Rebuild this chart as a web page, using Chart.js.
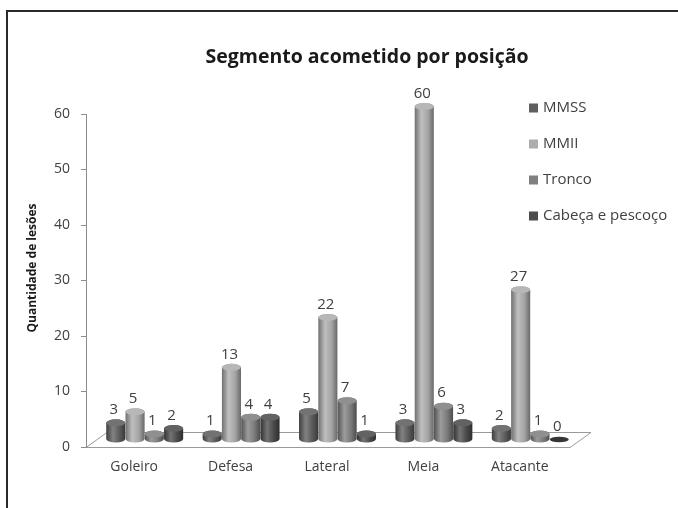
<!DOCTYPE html>
<html>
<head>
<meta charset="utf-8">
<script src="https://cdn.jsdelivr.net/npm/chart.js@4/dist/chart.umd.min.js"></script>
<style>
  html, body { margin: 0; padding: 0; background: #fff; }
  #wrap { width: 678px; height: 508px; }
</style>
</head>
<body>
<div id="wrap"><canvas id="lesoesChart" width="678" height="508"></canvas></div>
<script>
// data
const categories = ["Goleiro", "Defesa", "Lateral", "Meia", "Atacante"]
const seriesNames = ["MMSS", "MMII", "Tronco", "Cabeça e pescoço"]
const mmss = [3, 1, 5, 3, 2]
const mmii = [5, 13, 22, 60, 27]
const tronco = [1, 4, 7, 6, 1]
const cabeca = [2, 4, 1, 3, 0]
const yTicks = [0, 10, 20, 30, 40, 50, 60]

const seriesColors = ["#5f5f5f", "#adadad", "#808080", "#4d4d4d"]
const textColor = "#404040"
const fontFamily = "'Open Sans', 'Liberation Sans', sans-serif"

// 3D floor depth (pixels)
const depth = { dx: 21, dy: -15 }

function shade(hex, amt) {
  const n = parseInt(hex.slice(1), 16)
  let r = (n >> 16) & 255, g = (n >> 8) & 255, b = n & 255
  const t = amt < 0 ? 0 : 255
  const p = Math.abs(amt)
  r = Math.round(r + (t - r) * p)
  g = Math.round(g + (t - g) * p)
  b = Math.round(b + (t - b) * p)
  return "rgb(" + r + "," + g + "," + b + ")"
}

const cylinderPlugin = {
  id: "cylinders",
  beforeDraw(chart) {
    const { ctx, scales } = chart
    const x = scales.x, y = scales.y
    ctx.save()
    // outer frame
    ctx.strokeStyle = "#2a2a2a"
    ctx.lineWidth = 2
    ctx.strokeRect(7, 11, 720, 540)
    // floor
    const y0 = Math.round(y.getPixelForValue(0)) + 0.5
    const l = x.left, r = x.right + 2
    ctx.strokeStyle = "#9a9a9a"
    ctx.lineWidth = 1
    ctx.beginPath()
    ctx.moveTo(l, y0)
    ctx.lineTo(r, y0)
    ctx.lineTo(r + depth.dx, y0 + depth.dy)
    ctx.lineTo(l + depth.dx, y0 + depth.dy)
    ctx.closePath()
    ctx.stroke()
    ctx.restore()
  },
  beforeDatasetsDraw(chart) {
    const ctx = chart.ctx
    ctx.save()
    chart.data.datasets.forEach((ds, di) => {
      const meta = chart.getDatasetMeta(di)
      const c = seriesColors[di]
      meta.data.forEach((el, i) => {
        const { x, y, base, width } = el.getProps(["x", "y", "base", "width"], true)
        const rx = width / 2, ry = 3.5
        const cx = x + depth.dx / 2
        const top = y + depth.dy / 2
        const bot = base + depth.dy / 2
        if (bot - top > 0.5) {
          const grad = ctx.createLinearGradient(cx - rx, 0, cx + rx, 0)
          grad.addColorStop(0, shade(c, -0.35))
          grad.addColorStop(0.35, shade(c, 0.22))
          grad.addColorStop(0.7, shade(c, -0.05))
          grad.addColorStop(1, shade(c, -0.4))
          ctx.beginPath()
          ctx.moveTo(cx - rx, top)
          ctx.lineTo(cx - rx, bot)
          ctx.ellipse(cx, bot, rx, ry, 0, Math.PI, 0, true)
          ctx.lineTo(cx + rx, top)
          ctx.ellipse(cx, top, rx, ry, 0, 0, Math.PI, true)
          ctx.closePath()
          ctx.fillStyle = grad
          ctx.fill()
          ctx.beginPath()
          ctx.ellipse(cx, top, rx, ry, 0, 0, Math.PI * 2)
          ctx.fillStyle = shade(c, 0.12)
          ctx.fill()
        } else {
          ctx.beginPath()
          ctx.ellipse(cx, bot, rx, ry * 0.8, 0, 0, Math.PI * 2)
          ctx.fillStyle = shade(c, -0.3)
          ctx.fill()
        }
        // value label
        ctx.fillStyle = textColor
        ctx.font = "15px " + fontFamily
        ctx.textAlign = "center"
        ctx.textBaseline = "bottom"
        ctx.fillText(String(ds.data[i]), cx - 2, top - ry - 2)
      })
    })
    ctx.restore()
    return false
  },
  afterDraw(chart) {
    const ctx = chart.ctx
    ctx.save()
    // title
    ctx.fillStyle = "#1a1a1a"
    ctx.font = "bold 19.5px " + fontFamily
    ctx.textAlign = "center"
    ctx.textBaseline = "middle"
    ctx.fillText("Segmento acometido por posição", 367, 57)
    // y axis title
    ctx.save()
    ctx.translate(33, 268)
    ctx.rotate(-Math.PI / 2)
    ctx.font = "bold 12px " + fontFamily
    ctx.fillStyle = "#1a1a1a"
    ctx.fillText("Quantidade de lesões", 0, 0)
    ctx.restore()
    // legend
    ctx.font = "15px " + fontFamily
    ctx.textAlign = "left"
    ctx.textBaseline = "middle"
    chart.data.datasets.forEach((ds, i) => {
      const ly = 108 + i * 36
      ctx.fillStyle = seriesColors[i]
      ctx.fillRect(529, ly - 4.5, 9, 9)
      ctx.fillStyle = textColor
      ctx.fillText(ds.label, 543, ly)
    })
    ctx.restore()
  },
}

const ctx = document.getElementById("lesoesChart")
new Chart(ctx, {
  type: "bar",
  data: {
    labels: categories,
    datasets: [mmss, mmii, tronco, cabeca].map((values, i) => ({
      label: seriesNames[i],
      data: values,
      backgroundColor: seriesColors[i],
      categoryPercentage: 0.8,
      barPercentage: 0.99,
    })),
  },
  options: {
    responsive: false,
    animation: false,
    layout: {
      padding: { top: 114, left: 20, right: 110, bottom: 21 },
    },
    plugins: {
      legend: { display: false },
      tooltip: { enabled: false },
    },
    scales: {
      x: {
        grid: { display: false, drawTicks: false },
        border: { display: false },
        ticks: {
          color: textColor,
          font: { family: fontFamily, size: 14 },
          padding: 12,
        },
        afterFit: (scale) => {
          scale.height = 40
        },
      },
      y: {
        min: 0,
        max: 60,
        afterBuildTicks: (scale) => {
          scale.ticks = yTicks.map((v) => ({ value: v }))
        },
        grid: {
          drawOnChartArea: false,
          drawTicks: true,
          tickLength: 5,
          color: "#8c8c8c",
        },
        border: { color: "#8c8c8c", width: 1 },
        ticks: {
          color: textColor,
          font: { family: fontFamily, size: 14 },
          padding: 11,
        },
        afterFit: (scale) => {
          scale.width = 66
        },
      },
    },
  },
  plugins: [cylinderPlugin],
})
</script>
</body>
</html>
